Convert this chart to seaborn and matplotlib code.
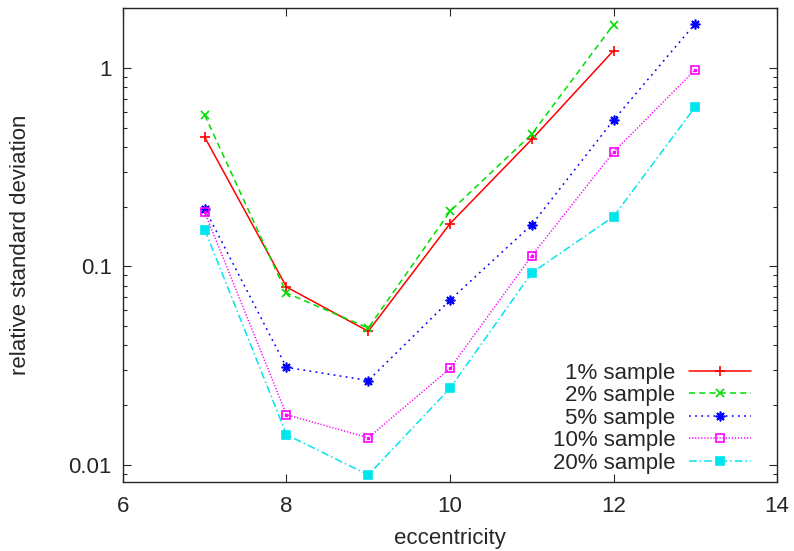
import pandas as pd
import matplotlib
matplotlib.use("Agg")
import matplotlib.pyplot as plt
import seaborn as sns
from matplotlib.ticker import FixedLocator, FixedFormatter, LogLocator, NullFormatter

# Werte
eccentricity = [7, 8, 9, 10, 11, 12, 13]
sample_labels = ["1% sample", "2% sample", "5% sample", "10% sample", "20% sample"]
rsd_1 = [0.447, 0.0787, 0.0471, 0.164, 0.436, 1.22]
rsd_2 = [0.578, 0.0734, 0.0489, 0.189, 0.463, 1.65]
rsd_5 = [0.195, 0.031, 0.0266, 0.0676, 0.162, 0.545, 1.67]
rsd_10 = [0.187, 0.0179, 0.0137, 0.0306, 0.113, 0.376, 0.977]
rsd_20 = [0.153, 0.0142, 0.0089, 0.0243, 0.0927, 0.178, 0.635]
y_ticks = [0.01, 0.1, 1]
y_ticklabels = ["0.01", "0.1", "1"]
x_ticks = [6, 8, 10, 12, 14]

serien = [rsd_1, rsd_2, rsd_5, rsd_10, rsd_20]
zeilen = []
for label, werte in zip(sample_labels, serien):
    for x, y in zip(eccentricity, werte):
        zeilen.append({"eccentricity": x, "rsd": y, "sample": label})
df = pd.DataFrame(zeilen)

sns.set_style("ticks")
plt.rcParams["font.family"] = ["Liberation Sans", "DejaVu Sans"]

fig = plt.figure(figsize=(7.94, 5.51), dpi=100)
ax = fig.add_axes([0.1549, 0.1252, 0.8237, 0.8603])

stile = {
    "1% sample": dict(color="#ff0000", linestyle="-", marker="+", markersize=7),
    "2% sample": dict(color="#00dd00", linestyle=(0, (4, 2.7)), marker="x", markersize=6),
    "5% sample": dict(color="#0000ff", linestyle=(0, (1.2, 2.8)), marker=(8, 2, 0), markersize=7),
    "10% sample": dict(color="#ff00ff", linestyle=(0, (0.8, 1.2)), marker="s", markersize=6,
                       mfc="none"),
    "20% sample": dict(color="#00e5ee", linestyle=(0, (5, 2, 1, 2)), marker="s", markersize=6),
}

for label in sample_labels:
    teil = df[df["sample"] == label]
    st = dict(stile[label])
    st.setdefault("mfc", st["color"])
    sns.lineplot(data=teil, x="eccentricity", y="rsd", ax=ax, label=label,
                 linewidth=1.1, mec=st["color"], mew=1.2, **st)
    if label == "10% sample":
        # kleiner Punkt in der Mitte des offenen Quadrats
        ax.plot(teil["eccentricity"], teil["rsd"], linestyle="none", marker="s",
                markersize=1.5, color="#ff00ff")

ax.set_yscale("log")
ax.set_xlim(6, 14)
ax.set_ylim(0.0082, 2.0)
ax.xaxis.set_major_locator(FixedLocator(x_ticks))
ax.yaxis.set_major_locator(FixedLocator(y_ticks))
ax.yaxis.set_major_formatter(FixedFormatter(y_ticklabels))
ax.yaxis.set_minor_locator(LogLocator(base=10, subs=range(2, 10)))
ax.yaxis.set_minor_formatter(NullFormatter())
ax.tick_params(which="both", direction="in", top=True, right=True, labelsize=16, width=0.8)
ax.tick_params(which="major", length=6)
ax.tick_params(which="minor", length=3)
ax.tick_params(axis="x", which="major", pad=10)
ax.tick_params(axis="y", which="major", pad=8)
for s in ax.spines.values():
    s.set_linewidth(1.0)

ax.set_xlabel("eccentricity", fontsize=16, labelpad=8)
ax.set_ylabel("relative standard deviation", fontsize=16, labelpad=27)

ax.legend(loc="lower right", bbox_to_anchor=(0.977, -0.006), frameon=False, markerfirst=False,
          fontsize=16, handlelength=2.8, handletextpad=0.6, labelspacing=0.07, borderpad=0)

fig.savefig("out.png", dpi=100)
plt.close()
